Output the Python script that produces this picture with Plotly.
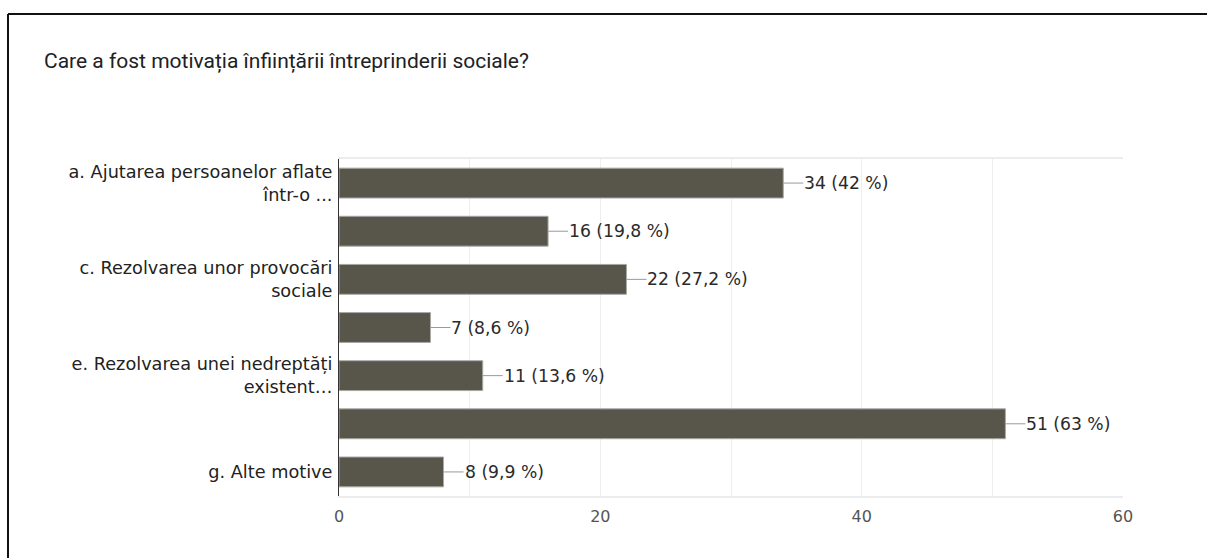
import plotly.graph_objects as go

categories = ["a", "b", "c", "d", "e", "f", "g"]
tick_labels = [
    "a. Ajutarea persoanelor aflate<br>într-o ...",
    "",
    "c. Rezolvarea unor provocări<br>sociale",
    "",
    "e. Rezolvarea unei nedreptăți<br>existent…",
    "",
    "g. Alte motive",
]
counts = [34, 16, 22, 7, 11, 51, 8]
percents = ["42", "19,8", "27,2", "8,6", "13,6", "63", "9,9"]
x_ticks = [0, 20, 40, 60]

W, H = 1207, 558
L, R, T, B = 339, 84, 159, 62
pw, ph = W - L - R, H - T - B

fig = go.Figure()
fig.add_trace(go.Bar(
    x=counts, y=categories, orientation="h",
    marker=dict(color="#58554a", line=dict(color="#a8a8a4", width=1)),
    width=0.62, hoverinfo="skip",
))

for c, v, p in zip(categories, counts, percents):
    fig.add_annotation(
        x=v, y=c, xref="x", yref="y",
        text=f"{v} ({p} %)",
        showarrow=True, arrowhead=0, arrowwidth=1, arrowcolor="#9a9a9a",
        ax=20, ay=0, xanchor="left", yanchor="middle", borderpad=0,
        standoff=0,
        font=dict(family="DejaVu Sans", size=17.2, color="#2a2a2a"),
    )

def px_x(px):
    return (px - L) / pw

def px_y(py):
    return (H - B - py) / ph

# outer frame of the screenshot (top and left edges visible)
fig.add_shape(type="line", xref="paper", yref="paper",
              x0=px_x(8), x1=px_x(1207), y0=px_y(14), y1=px_y(14),
              line=dict(color="#111111", width=2))
fig.add_shape(type="line", xref="paper", yref="paper",
              x0=px_x(8), x1=px_x(8), y0=px_y(14), y1=px_y(558),
              line=dict(color="#111111", width=2))

fig.update_layout(
    width=W, height=H,
    margin=dict(l=L, r=R, t=T, b=B),
    paper_bgcolor="white", plot_bgcolor="white",
    showlegend=False,
    title=dict(
        text="Care a fost motivația înființării întreprinderii sociale?",
        xref="container", yref="container",
        x=44 / W, xanchor="left", y=1 - 61 / H, yanchor="middle",
        font=dict(family="Roboto, Arial", size=21, color="#202124"),
    ),
    xaxis=dict(
        range=[0, 60], tickvals=x_ticks, ticktext=[str(t) for t in x_ticks],
        showgrid=True, gridcolor="#eeeeee", gridwidth=1,
        minor=dict(dtick=10, showgrid=True, gridcolor="#eeeeee"),
        showline=True, linecolor="#ececec", linewidth=2, mirror=True,
        zeroline=False, ticks="", ticklabelstandoff=5,
        tickfont=dict(family="DejaVu Sans", size=16, color="#555555"),
        fixedrange=True,
    ),
    yaxis=dict(
        categoryorder="array", categoryarray=categories,
        autorange="reversed",
        tickvals=categories, ticktext=tick_labels,
        showgrid=False, showline=True, linecolor="#333333", linewidth=1,
        ticks="", ticklabelstandoff=2,
        tickfont=dict(family="DejaVu Sans", size=17.7, color="#222222"),
        fixedrange=True,
    ),
    bargap=0.38,
)

fig.write_html(
    "out.html",
    config={"displayModeBar": False},
    post_script="document.body.style.margin='0';document.body.style.overflow='hidden';",
)
